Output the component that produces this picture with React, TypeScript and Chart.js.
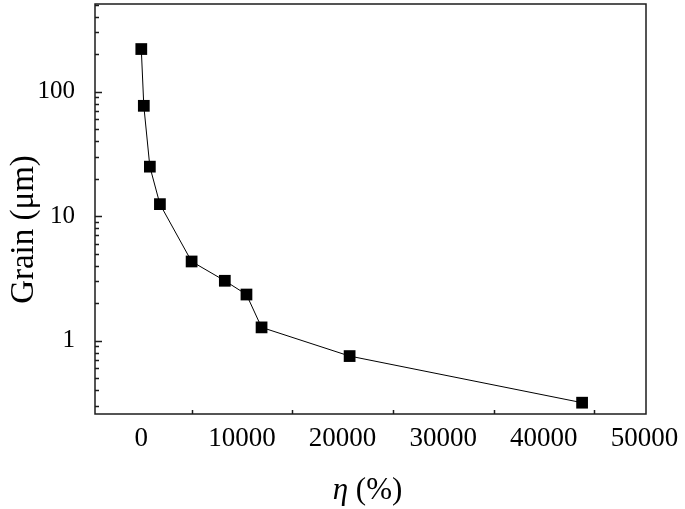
import React, { useEffect, useRef } from "react";
import { Chart, registerables } from "chart.js";

Chart.register(...registerables);

const etaValues = [0, 250, 850, 1850, 5000, 8300, 10450, 11950, 20700, 43800];
const grainValues = [220, 77, 25, 12.5, 4.33, 3.03, 2.35, 1.28, 0.753, 0.318];
const xTickValues = [0, 10000, 20000, 30000, 40000, 50000];
const xMinorTickValues = [5000, 15000, 25000, 35000, 45000];
const yTickValues = [1, 10, 100];
const yMinorTickValues = [0.3, 0.4, 0.5, 0.6, 0.7, 0.8, 0.9, 2, 3, 4, 5, 6, 7, 8, 9, 20, 30, 40, 50, 60, 70, 80, 90, 200, 300, 400, 500];
const xTitleItalic = "η";
const xTitleRest = " (%)";
const yTitle = "Grain (μm)";

const AXIS_COLOR = "#1c1c1c";
const SERIF = "'Liberation Serif', 'Times New Roman', serif";

const framePlugin = {
  id: "frame",
  afterDraw(chart: any) {
    const { ctx, chartArea: a, scales } = chart;
    const x = scales.x;
    const y = scales.y;
    ctx.save();
    ctx.strokeStyle = AXIS_COLOR;
    ctx.lineWidth = 1.5;
    ctx.strokeRect(a.left, a.top, a.right - a.left, a.bottom - a.top);
    ctx.beginPath();
    for (const v of yTickValues) {
      const py = Math.round(y.getPixelForValue(v)) + 0.5;
      ctx.moveTo(a.left, py);
      ctx.lineTo(a.left + 7, py);
    }
    for (const v of yMinorTickValues) {
      const py = Math.round(y.getPixelForValue(v)) + 0.5;
      if (py < a.top + 1 || py > a.bottom - 1) continue;
      ctx.moveTo(a.left, py);
      ctx.lineTo(a.left + 4, py);
    }
    for (const v of xMinorTickValues) {
      const px = Math.round(x.getPixelForValue(v)) + 0.5;
      ctx.moveTo(px, a.bottom);
      ctx.lineTo(px, a.bottom - 4);
    }
    ctx.stroke();

    ctx.fillStyle = "#000";
    ctx.textBaseline = "alphabetic";
    ctx.font = `italic 31px ${SERIF}`;
    const w1 = ctx.measureText(xTitleItalic).width;
    ctx.font = `31px ${SERIF}`;
    const w2 = ctx.measureText(xTitleRest).width;
    const cx = (a.left + a.right) / 2 - 3;
    const startX = cx - (w1 + w2) / 2;
    ctx.textAlign = "left";
    ctx.font = `italic 31px ${SERIF}`;
    ctx.fillText(xTitleItalic, startX, 499);
    ctx.font = `31px ${SERIF}`;
    ctx.fillText(xTitleRest, startX + w1, 499);
    ctx.font = `33px ${SERIF}`;
    ctx.translate(33, 229.5);
    ctx.rotate(-Math.PI / 2);
    ctx.textAlign = "center";
    ctx.fillText(yTitle, 0, 0);
    ctx.restore();
  },
};

export default function App() {
  const ref = useRef<HTMLCanvasElement | null>(null);

  useEffect(() => {
    const canvas = ref.current;
    if (!canvas) return;
    const chart = new Chart(canvas, {
      type: "line",
      data: {
        datasets: [
          {
            data: etaValues.map((v, i) => ({ x: v, y: grainValues[i] })),
            borderColor: "#000",
            borderWidth: 1,
            backgroundColor: "#000",
            pointStyle: "rect",
            pointRadius: 8.3,
            pointBorderWidth: 0,
            pointBackgroundColor: "#000",
            tension: 0,
          },
        ],
      },
      options: {
        responsive: false,
        animation: false,
        devicePixelRatio: 1,
        layout: { autoPadding: false, padding: { top: 4, right: 39, left: 0, bottom: 0 } },
        plugins: { legend: { display: false }, tooltip: { enabled: false } },
        scales: {
          x: {
            type: "linear",
            min: -4600,
            max: 50150,
            grid: { display: false },
            border: { display: false },
            afterBuildTicks: (scale: any) => {
              scale.ticks = xTickValues.map((v) => ({ value: v }));
            },
            afterFit: (scale: any) => {
              scale.height = 95;
              scale.paddingLeft = 0;
              scale.paddingRight = 0;
            },
            ticks: {
              color: "#000",
              font: { family: SERIF, size: 27 },
              padding: 1,
              maxRotation: 0,
              autoSkip: false,
              callback: (v: any) => String(v),
            },
          },
          y: {
            type: "logarithmic",
            min: 0.258,
            max: 506,
            grid: { display: false },
            border: { display: false },
            afterBuildTicks: (scale: any) => {
              scale.ticks = yTickValues.map((v) => ({ value: v }));
            },
            afterFit: (scale: any) => {
              scale.width = 95;
              scale.paddingTop = 0;
              scale.paddingBottom = 0;
            },
            ticks: {
              color: "#000",
              font: { family: SERIF, size: 25 },
              padding: 12,
              autoSkip: false,
              callback: (v: any) => String(v),
            },
          },
        },
      },
      plugins: [framePlugin],
    });
    return () => chart.destroy();
  }, []);

  return (
    <div style={{ position: "absolute", left: 0, top: 0, width: 685, height: 509, background: "#fff" }}>
      <canvas ref={ref} width={685} height={509} style={{ display: "block" }} />
    </div>
  );
}
